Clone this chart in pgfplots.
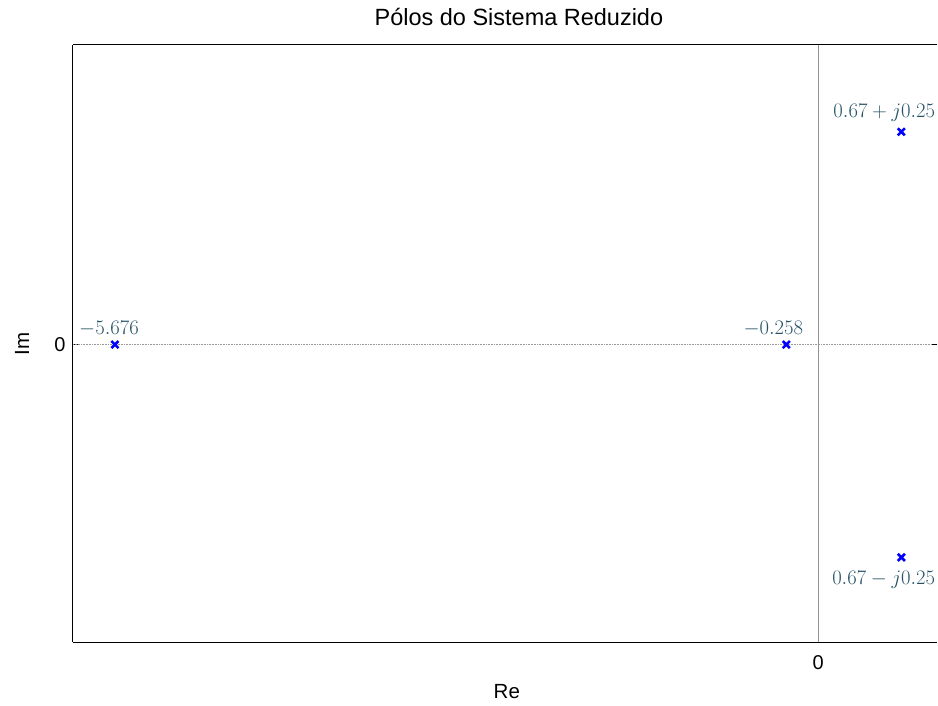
\documentclass[border=0pt]{standalone}
\usepackage{pgfplots}
\pgfplotsset{compat=1.18}
\usepackage{fontspec}
\setmainfont{Liberation Sans}
\definecolor{anncol}{RGB}{38,82,102}
\begin{document}
\begin{tikzpicture}
\begin{axis}[
  scale only axis,
  width=865bp, height=598bp,
  xmin=-6.015, xmax=0.96,
  ymin=-0.35, ymax=0.352,
  axis x line*=box,
  axis y line*=left,
  axis line style={line width=1bp, black},
  xtick={0}, ytick={0},
  tick align=inside,
  major tick length=5bp,
  tick style={black, line width=0.8bp},
  /pgf/number format/assume math mode=true,
  ticklabel style={font=\fontsize{20bp}{24bp}\selectfont},
  xticklabel style={anchor=center, yshift=-20bp},
  yticklabel style={anchor=center, xshift=-13bp},
  title={Pólos do Sistema Reduzido},
  title style={font=\fontsize{23.5bp}{27bp}\selectfont, at={(axis description cs:0.516,1)}, anchor=center, yshift=22bp},
  xlabel={Re},
  xlabel style={font=\fontsize{20.5bp}{24bp}\selectfont, at={(axis description cs:0.502,0)}, anchor=center, yshift=-49bp},
  ylabel={Im},
  ylabel style={font=\fontsize{20.5bp}{24bp}\selectfont, at={(axis description cs:0,0.5)}, anchor=center, yshift=51bp},
  clip=false,
]
\draw[gray!80, line width=0.6bp, densely dotted] (axis cs:-6.015,0) -- (axis cs:0.96,0);
\draw[gray!85, line width=0.8bp] (axis cs:0,-0.35) -- (axis cs:0,0.352);
\draw[black, line width=1.5bp] (axis cs:0.96,0) -- ([xshift=-5bp]axis cs:0.96,0);
\addplot[only marks, mark=x, mark size=5bp, mark options={line width=2.6bp}, blue] coordinates {
  (-5.676,0) (-0.258,0) (0.67,0.25) (0.67,-0.25)
};
\node[anncol, anchor=south, inner sep=0pt, font=\fontsize{22bp}{26bp}\selectfont] at (axis cs:-5.724,0.009) {$-5.676$};
\node[anncol, anchor=south, inner sep=0pt, font=\fontsize{22bp}{26bp}\selectfont] at (axis cs:-0.363,0.009) {$-0.258$};
\node[anncol, anchor=east, inner sep=0pt, font=\fontsize{22.5bp}{26bp}\selectfont] at (axis cs:0.944,0.272) {$0.67+j0.25$};
\node[anncol, anchor=east, inner sep=0pt, font=\fontsize{22.5bp}{26bp}\selectfont] at (axis cs:0.944,-0.276) {$0.67-j0.25$};
\end{axis}
\path (current axis.south west) ++(-73bp,-63bp) coordinate (a);
\path (current axis.north east) ++(0bp,45bp) coordinate (b);
\path (a) rectangle (b);
\end{tikzpicture}
\end{document}
